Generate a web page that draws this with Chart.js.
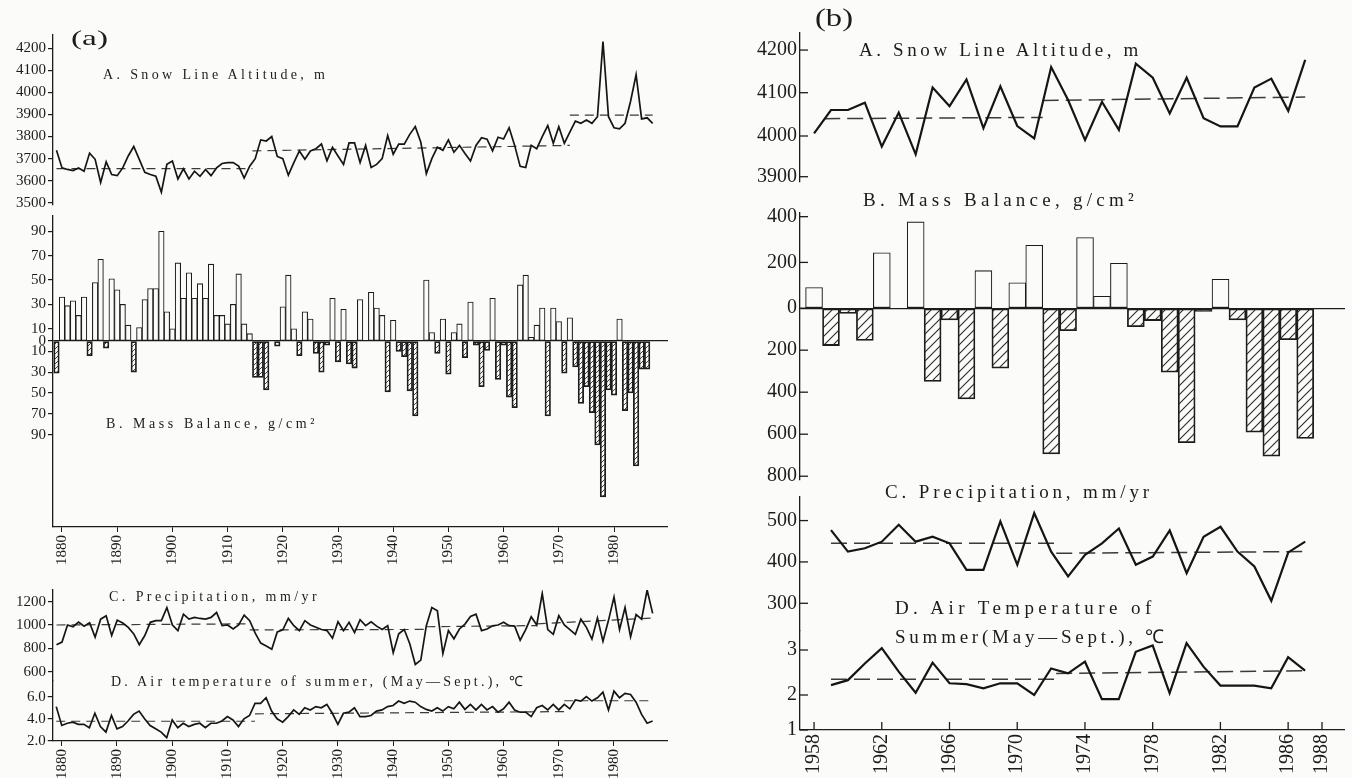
<!DOCTYPE html>
<html><head><meta charset="utf-8">
<script src="https://cdn.jsdelivr.net/npm/chart.js@4.4.1/dist/chart.umd.min.js"></script>
<style>
html,body{margin:0;padding:0;background:#fbfbf9;}
#wrap{position:relative;width:1352px;height:778px;overflow:hidden;background:#fbfbf9;}
#wrap canvas{position:absolute;}
.t{position:absolute;font-family:"Liberation Serif",serif;color:#1c1c1c;white-space:nowrap;line-height:1;transform-origin:0 50%;}
</style></head><body><div id="wrap">
<canvas id="aA"></canvas><canvas id="aB"></canvas><canvas id="aC"></canvas><canvas id="aD"></canvas>
<canvas id="bA"></canvas><canvas id="bB"></canvas><canvas id="bC"></canvas><canvas id="bD"></canvas>
</div>
<script>
// ---------------- DATA : panel (a), 1879-1987 ----------------
const a_years = [1879,1880,1881,1882,1883,1884,1885,1886,1887,1888,1889,1890,1891,1892,1893,1894,1895,1896,1897,1898,1899,1900,1901,1902,1903,1904,1905,1906,1907,1908,1909,1910,1911,1912,1913,1914,1915,1916,1917,1918,1919,1920,1921,1922,1923,1924,1925,1926,1927,1928,1929,1930,1931,1932,1933,1934,1935,1936,1937,1938,1939,1940,1941,1942,1943,1944,1945,1946,1947,1948,1949,1950,1951,1952,1953,1954,1955,1956,1957,1958,1959,1960,1961,1962,1963,1964,1965,1966,1967,1968,1969,1970,1971,1972,1973,1974,1975,1976,1977,1978,1979,1980,1981,1982,1983,1984,1985,1986,1987];
const a_snow = [3738,3658,3651,3646,3658,3643,3725,3697,3592,3686,
 3628,3623,3658,3712,3755,3697,3638,3628,3620,3548,
 3674,3689,3608,3654,3608,3643,3620,3651,3623,3658,
 3678,3682,3682,3666,3612,3666,3700,3785,3780,3800,
 3710,3700,3625,3682,3735,3697,3735,3745,3766,3690,
 3751,3712,3674,3771,3771,3682,3760,3660,3674,3700,
 3805,3720,3766,3766,3810,3845,3774,3632,3700,3752,
 3738,3785,3729,3760,3723,3689,3760,3795,3788,3735,
 3797,3789,3840,3760,3665,3660,3760,3745,3800,3850,
 3770,3845,3770,3820,3870,3860,3875,3860,3890,4230,
 3890,3840,3835,3860,3960,4080,3880,3885,3860];
const a_massYears = a_years.slice(0, 108); // 1879-1986
const a_mass = [-31,36,29,33,21,36,-14,48,67,-7,
 51,42,30,13,-30,11,34,43,43,90,
 24,10,64,35,56,35,47,35,63,21,
 21,14,30,55,14,6,-35,-35,-47,0,
 -5,28,54,10,-14,24,18,-12,-30,-4,
 35,-20,26,-22,-26,34,0,40,27,21,
 -49,17,-10,-15,-48,-72,0,50,7,-12,
 18,-32,7,14,-16,32,-4,-44,-9,35,
 -37,-4,-54,-64,46,54,3,13,27,-72,
 27,16,-31,19,-25,-60,-44,-69,-100,-150,
 -47,-52,18,-67,-50,-120,-27,-27];
const a_precip = [831,854,1000,985,1025,990,1020,896,1050,1079,
 910,1042,1017,980,924,831,910,1023,1037,1037,
 1149,1000,952,1093,1051,1065,1056,1051,1065,1107,
 994,1000,966,1000,1085,1037,930,845,820,792,
 940,958,1056,994,952,1037,1000,980,961,952,
 887,1028,952,1023,935,1045,994,1028,990,961,
 994,763,924,961,840,662,699,994,1149,1121,
 755,952,882,966,1008,1073,1093,952,966,994,
 1000,1023,994,990,870,960,1070,1000,1270,960,
 920,1080,1000,960,920,1050,980,880,1060,860,
 1040,1240,960,1150,900,1090,1050,1300,1100];
const a_temp = [5.1,3.4,3.6,3.7,3.5,3.5,3.2,4.5,3.3,2.8,
 4.3,3.1,3.3,3.8,4.4,4.7,4.0,3.4,3.1,2.8,
 2.3,3.9,3.2,3.6,3.3,3.5,3.6,3.2,3.6,3.6,
 3.8,4.2,3.9,3.3,4.0,4.3,5.4,5.4,5.9,4.7,
 4.0,3.7,4.2,4.8,4.4,5.0,4.8,5.1,5.0,5.3,
 4.5,3.5,4.5,4.6,5.0,4.2,4.2,4.3,4.7,4.8,
 5.1,5.2,5.6,5.4,5.6,5.5,5.1,4.85,4.7,5.0,
 4.7,5.1,4.9,5.5,4.85,5.3,4.8,5.3,4.8,5.1,
 4.6,4.9,5.5,4.8,4.6,4.6,4.2,5.0,5.2,4.8,
 5.3,4.8,5.3,4.9,5.7,5.6,6.0,5.6,5.9,6.4,
 4.8,6.5,5.9,6.3,6.2,5.5,4.4,3.6,3.8];
// period means (dashed): [startYear, value, endYear, value]
const a_snowMeans = [[1879,3655,1914.5,3655],[1914.5,3735,1972,3760],[1972,3897,1987,3897]];
const a_precipMeans = [[1879,1000,1913.5,1010],[1914,958,1946,962],[1946,985,1966,995],[1966,1010,1987,1060]];
const a_tempMeans = [[1879,3.78,1915,3.78],[1915,4.45,1971,4.65],[1971,5.63,1987,5.63]];
const a_snowTicks = [3500,3600,3700,3800,3900,4000,4100,4200];
const a_massTicks = [90,70,50,30,10,0,-10,-30,-50,-70,-90];
const a_precipTicks = [600,800,1000,1200];
const a_tempTicks = [2,4,6];
const a_yearTicks = [1880,1890,1900,1910,1920,1930,1940,1950,1960,1970,1980];

// ---------------- DATA : panel (b) ----------------
const b_years = [1958,1959,1960,1961,1962,1963,1964,1965,1966,1967,1968,1969,1970,1971,1972,1973,1974,1975,1976,1977,1978,1979,1980,1981,1982,1983,1984,1985,1986,1987];
const b_snow = [4006,4060,4060,4077,3974,4054,3955,4112,4069,4131,4018,4115,4023,3994,4160,4083,3990,4079,4014,4168,4135,4052,4135,4041,4022,4022,4112,4133,4058,4177];
const b_mass = [90,-178,-25,-154,242,0,377,-349,-56,-432,164,-286,111,275,-694,-107,309,52,196,-88,-59,-305,-640,-15,126,-56,-590,-705,-150,-620];
const b_years2 = b_years.slice(1); // 1959-1987
const b_precip = [477,425,433,449,490,449,461,445,381,381,498,393,518,425,365,417,445,481,393,413,476,373,461,485,425,389,306,423,449];
const b_temp = [2.22,2.33,2.70,3.04,2.52,2.05,2.72,2.26,2.24,2.15,2.26,2.26,2.00,2.59,2.48,2.74,1.88,1.88,2.96,3.10,2.04,3.15,2.63,2.21,2.21,2.21,2.15,2.84,2.54];
const b_snowMeans = [[1958.6,4040,1971.5,4043],[1971.5,4082,1987,4090]];
const b_precipMeans = [[1959,445,1972.3,445],[1972.3,421,1987,425]];
const b_tempMeans = [[1959,2.35,1972.3,2.35],[1972.3,2.48,1987,2.54]];
const b_snowTicks = [3900,4000,4100,4200];
const b_massTicks = [400,200,0,-200,-400,-600,-800];
const b_precipTicks = [300,400,500];
const b_tempTicks = [1,2,3];
const b_yearTicks = [1958,1962,1966,1970,1974,1978,1982,1986,1988];

// ---------------- helpers ----------------
const SERIF = '"Liberation Serif", "Times New Roman", serif';
const INK = '#1c1c1c';
Chart.defaults.font.family = SERIF;
Chart.defaults.color = INK;

// piecewise-linear value axis (the original figure uses unequal spacing above/below zero)
const ANCH = {};
class PiecewiseScale extends Chart.LinearScale {
  _a(){ return ANCH[this.chart.canvas.id]; }
  getPixelForValue(value){
    const a = this._a();
    if (!a || value === null || value === undefined || isNaN(value)) return super.getPixelForValue(value);
    let i = 0; while (i < a.length - 2 && value > a[i+1][0]) i++;
    const v0 = a[i][0], d0 = a[i][1], v1 = a[i+1][0], d1 = a[i+1][1];
    return this.getPixelForDecimal(d0 + (value - v0) * (d1 - d0) / (v1 - v0));
  }
  getValueForPixel(pixel){
    const a = this._a();
    if (!a) return super.getValueForPixel(pixel);
    const d = this.getDecimalForPixel(pixel);
    let i = 0; while (i < a.length - 2 && d > a[i+1][1]) i++;
    const v0 = a[i][0], d0 = a[i][1], v1 = a[i+1][0], d1 = a[i+1][1];
    return v0 + (d - d0) * (v1 - v0) / (d1 - d0);
  }
}
PiecewiseScale.id = 'piecewise';
PiecewiseScale.defaults = Chart.LinearScale.defaults;
Chart.register(PiecewiseScale);
// anchors given as [value, pageY] inside a chart box
function setAnchors(id, box, pairs){ ANCH[id] = pairs.map(p => [p[0], (box.b - p[1]) / (box.b - box.t)]); }

const pts = (xs, ys) => xs.map((x, i) => ({x: x, y: ys[i]}));
const meanSets = (segs, w, dash) => segs.map(s => ({type:'line', data:[{x:s[0],y:s[1]},{x:s[2],y:s[3]}],
  borderColor:'#3a3a3a', borderWidth:w, borderDash:dash, pointRadius:0, tension:0, order:2}));
const lineSet = (xs, ys, w) => ({type:'line', data:pts(xs, ys), borderColor:'#151515', borderWidth:w,
  pointRadius:0, tension:0, borderJoinStyle:'miter', order:1});
function hatch(chart, step, lw){
  if (!chart.$hatch){
    const c = document.createElement('canvas'); c.width = c.height = step;
    const g = c.getContext('2d'); g.strokeStyle = '#2a2a2a'; g.lineWidth = lw;
    g.beginPath();
    g.moveTo(0, step); g.lineTo(step, 0);
    g.moveTo(-step/2, step/2); g.lineTo(step/2, -step/2);
    g.moveTo(step/2, step*1.5); g.lineTo(step*1.5, step/2);
    g.stroke();
    chart.$hatch = chart.ctx.createPattern(c, 'repeat');
  }
  return chart.$hatch;
}
const barSet = (xs, ys, step, lw) => ({type:'bar', data:pts(xs, ys), borderColor:'#1c1c1c', borderWidth:1.1,
  borderSkipped:false, barPercentage:1, categoryPercentage:1, order:1,
  backgroundColor: c => (c.raw && c.raw.y < 0) ? hatch(c.chart, step, lw) : 'rgba(251,251,249,1)'});
const inward = {id:'inward', afterDraw(chart, args, o){
  if (!o || !o.len) return;
  const {ctx, chartArea:ca} = chart; ctx.save(); ctx.strokeStyle = INK; ctx.lineWidth = 1.3;
  const ys = chart.scales.y;
  ys.ticks.forEach(t => { const p = ys.getPixelForValue(t.value); ctx.beginPath(); ctx.moveTo(ca.left, p); ctx.lineTo(ca.left + o.len, p); ctx.stroke(); });
  if (o.x){ const xs = chart.scales.x;
    xs.ticks.forEach(t => { const p = xs.getPixelForValue(t.value); ctx.beginPath(); ctx.moveTo(p, ca.bottom); ctx.lineTo(p, ca.bottom - o.len); ctx.stroke(); }); }
  ctx.restore(); }};

function yScale(min, max, ticks, size, opts){
  opts = opts || {};
  return {type: opts.pw ? 'piecewise' : 'linear', min:min, max:max,
    afterBuildTicks: s => { s.ticks = ticks.map(v => ({value:v})); },
    grid:{display:true, drawOnChartArea: !!opts.zero, drawTicks: !opts.inward, tickLength:5,
      color: c => (opts.zero && c.tick && c.tick.value === 0) ? INK : 'rgba(0,0,0,0)', tickColor: INK, lineWidth:1.2},
    border:{display:true, color:INK, width:1.3},
    ticks:{autoSkip:false, padding: opts.inward ? 3 : 2, font:{size:size, family:SERIF}, color:INK,
      callback: v => opts.abs ? String(Math.abs(v)) : (opts.fmt ? opts.fmt(v) : String(v))}};
}
function xScale(min, max, ticks, size, show, inwardTicks){
  if (!show) return {type:'linear', min:min, max:max, display:false, offset:false};
  return {type:'linear', min:min, max:max, offset:false,
    afterBuildTicks: s => { s.ticks = ticks.map(v => ({value:v})); },
    grid:{display:true, drawOnChartArea:false, offset:false, drawTicks: !inwardTicks, tickLength:5, color:INK, tickColor:INK},
    border:{display:true, color:INK, width:1.3},
    ticks:{autoSkip:false, minRotation:90, maxRotation:90, padding: inwardTicks ? 4 : 3,
      font:{size:size, family:SERIF}, color:INK, callback: v => String(v)}};
}
function baseOpts(scales, inw){
  return {responsive:false, maintainAspectRatio:false, animation:false, events:[],
    layout:{padding:0}, plugins:{legend:{display:false}, tooltip:{enabled:false}, title:{display:false}, inward: inw || {}},
    scales:scales};
}
function place(id, makeCfg, box){
  const cv = document.getElementById(id);
  let W = Math.round(box.r - box.l + 140), H = Math.round(box.b - box.t + 90), pl = 0, pt = 0, ch = null;
  for (let k = 0; k < 4; k++){
    if (ch) ch.destroy();
    cv.width = W; cv.height = H; cv.style.width = W + 'px'; cv.style.height = H + 'px';
    ch = new Chart(cv, makeCfg());
    const ca = ch.chartArea;
    pl = ca.left; pt = ca.top;
    const pr = W - ca.right, pb = H - ca.bottom;
    const nW = Math.round(box.r - box.l + pl + pr), nH = Math.round(box.b - box.t + pt + pb);
    if (nW === W && nH === H) break;
    W = nW; H = nH;
  }
  cv.style.left = (box.l - pl) + 'px'; cv.style.top = (box.t - pt) + 'px';
  return ch;
}

// frames (chart areas in page pixels) and x ranges matching the figure
const AX = [1878.37, 1989.78];
const BX = [1957.17, 1989.35];
const FA = 15, FB = 20;
const boxAA = {l:53, r:668, t:35.3, b:204.9}, boxAB = {l:53, r:668, t:216, b:527};
const boxAC = {l:53, r:668, t:589.8, b:680.8}, boxAD = {l:53, r:668, t:680.8, b:741};
const boxBA = {l:800, r:1345, t:33, b:182}, boxBB = {l:800, r:1345, t:213, b:480.4};
const boxBC = {l:800, r:1345, t:497, b:631}, boxBD = {l:800, r:1345, t:631, b:730};
setAnchors('aB', boxAB, [[-178.8,527],[0,341],[102.5,216]]);
setAnchors('bA', boxBA, [[3888,182],[3900,176.7],[4000,136],[4100,92.7],[4240,33]]);
setAnchors('bB', boxBB, [[-818,480.4],[0,308.3],[416,213]]);
setAnchors('bD', boxBD, [[1,730],[2,695],[3,650],[3.42,631]]);

// ---------------- panel (a) ----------------
place('aA', () => ({type:'line', data:{datasets:[lineSet(a_years, a_snow, 1.7), ...meanSets(a_snowMeans, 1.2, [9,6])]},
  options: baseOpts({x:xScale(AX[0], AX[1], [], FA, false), y:yScale(3490, 4260, a_snowTicks, FA)})}), boxAA);
place('aB', () => ({type:'bar', data:{datasets:[barSet(a_massYears, a_mass, 5, 0.9)]},
  options: baseOpts({x:xScale(AX[0], AX[1], a_yearTicks, FA, true), y:yScale(-178.8, 102.5, a_massTicks, FA, {abs:true, zero:true, pw:true})})}), boxAB);
place('aC', () => ({type:'line', data:{datasets:[lineSet(a_years, a_precip, 1.7), ...meanSets(a_precipMeans, 1.2, [9,6])]},
  options: baseOpts({x:xScale(AX[0], AX[1], [], FA, false), y:yScale(520, 1300, a_precipTicks, FA)})}), boxAC);
place('aD', () => ({type:'line', data:{datasets:[lineSet(a_years, a_temp, 1.7), ...meanSets(a_tempMeans, 1.2, [9,6])]},
  options: baseOpts({x:xScale(AX[0], AX[1], a_yearTicks, FA, true), y:yScale(2.0, 7.41, a_tempTicks, FA, {fmt: v => v.toFixed(1)})})}), boxAD);

// ---------------- panel (b) ----------------
place('bA', () => ({type:'line', data:{datasets:[lineSet(b_years, b_snow, 2.2), ...meanSets(b_snowMeans, 1.5, [16,7])]},
  options: baseOpts({x:xScale(BX[0], BX[1], [], FB, false), y:yScale(3888, 4240, b_snowTicks, FB, {inward:true, pw:true})}, {len:8}),
  plugins:[inward]}), boxBA);
place('bB', () => ({type:'bar', data:{datasets:[barSet(b_years, b_mass, 9, 1.1)]},
  options: baseOpts({x:xScale(BX[0], BX[1], [], FB, false), y:yScale(-818, 416, b_massTicks, FB, {abs:true, zero:true, inward:true, pw:true})}, {len:8}),
  plugins:[inward]}), boxBB);
place('bC', () => ({type:'line', data:{datasets:[lineSet(b_years2, b_precip, 2.2), ...meanSets(b_precipMeans, 1.5, [16,7])]},
  options: baseOpts({x:xScale(BX[0], BX[1], [], FB, false), y:yScale(233, 557, b_precipTicks, FB, {inward:true})}, {len:8}),
  plugins:[inward]}), boxBC);
place('bD', () => ({type:'line', data:{datasets:[lineSet(b_years2, b_temp, 2.2), ...meanSets(b_tempMeans, 1.5, [16,7])]},
  options: baseOpts({x:xScale(BX[0], BX[1], b_yearTicks, FB, true, true), y:yScale(1, 3.42, b_tempTicks, FB, {inward:true, pw:true})}, {len:8, x:true}),
  plugins:[inward]}), boxBD);

// ---------------- text labels ----------------
const wrap = document.getElementById('wrap');
const mctx = document.createElement('canvas').getContext('2d');
function label(text, left, cy, width, size, mode){
  const d = document.createElement('div'); d.className = 't'; d.textContent = text;
  d.style.fontSize = size + 'px'; d.style.left = left + 'px'; d.style.top = (cy - 0.51*size) + 'px';
  mctx.font = size + 'px ' + SERIF;
  const w = mctx.measureText(text).width;
  if (mode === 'scale') d.style.transform = 'scaleX(' + (width / w).toFixed(3) + ')';
  else { const n = Array.from(text).length; d.style.letterSpacing = ((width - w) / n).toFixed(2) + 'px'; }
  wrap.appendChild(d);
}
label('(a)', 71, 38.5, 37, 22, 'scale');
label('A. Snow Line Altitude, m', 103, 75, 226, 14);
label('B. Mass Balance, g/cm²', 106, 424, 212, 14);
label('C. Precipitation,  mm/yr', 109, 597, 218, 14);
label('D. Air temperature of summer, (May—Sept.), ℃', 111, 681.7, 416, 14);
label('(b)', 815, 18, 38, 25, 'scale');
label('A. Snow Line Altitude, m', 859, 50, 284, 19);
label('B. Mass Balance, g/cm²', 863, 200, 275, 19);
label('C. Precipitation, mm/yr', 885, 492, 268, 19);
label('D. Air Temperature of', 895, 608, 262, 19);
label('Summer(May—Sept.), ℃', 895, 637, 273, 19);
</script>
</body></html>
